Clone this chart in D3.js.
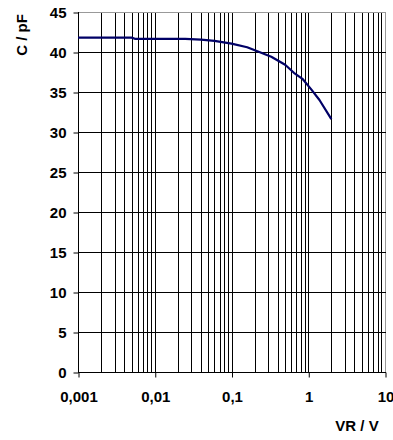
<!DOCTYPE html>
<html>
<head>
<meta charset="utf-8">
<script src="https://cdn.jsdelivr.net/npm/d3@7"></script>
<style>
  body { margin: 0; background: #fff; }
  svg text { font-family: "Liberation Sans", Arial, sans-serif; font-weight: bold; fill: #000; }
</style>
</head>
<body>
<svg id="chart" width="393" height="440"></svg>
<script>
// reverse voltage (V) and capacitance (pF)
const vr = [0.001, 0.005, 0.0055, 0.025, 0.04, 0.06, 0.1, 0.16, 0.23, 0.33, 0.5, 0.65, 0.85, 1.1, 1.4, 2];
const cap = [41.8, 41.8, 41.65, 41.65, 41.55, 41.4, 41.05, 40.6, 40.0, 39.4, 38.4, 37.4, 36.6, 35.3, 34.0, 31.6];

const xTicks = [0.001, 0.01, 0.1, 1, 10];
const xTickLabels = ["0,001", "0,01", "0,1", "1", "10"];
const yTicks = [0, 5, 10, 15, 20, 25, 30, 35, 40, 45];

const svg = d3.select("#chart");
const plot = { left: 78, right: 385, top: 12, bottom: 372 };

const x = d3.scaleLog().domain([0.001, 10]).range([plot.left, plot.right]);
const y = d3.scaleLinear().domain([0, 45]).range([plot.bottom, plot.top]);

// snap to pixel centre so 1px lines stay crisp
const px = (v) => Math.round(v) + 0.5;

// minor + major vertical grid (1..9 per decade)
const vLines = [];
for (let e = -3; e < 1; e++) {
  for (let m = 1; m < 10; m++) vLines.push(m * Math.pow(10, e));
}
vLines.push(10);

const grid = svg.append("g").attr("class", "grid");

grid.selectAll(".vgrid")
  .data(vLines)
  .join("line")
  .attr("class", "vgrid")
  .attr("x1", (d) => px(x(d)))
  .attr("x2", (d) => px(x(d)))
  .attr("y1", plot.top)
  .attr("y2", plot.bottom)
  .attr("stroke", (d) => (d === 10 ? "#999" : "#000"))
  .attr("stroke-width", 1);

grid.selectAll(".hgrid")
  .data(yTicks)
  .join("line")
  .attr("class", "hgrid")
  .attr("x1", plot.left)
  .attr("x2", plot.right + 1)
  .attr("y1", (d) => px(y(d)))
  .attr("y2", (d) => px(y(d)))
  .attr("stroke", (d) => (d === 45 ? "#999" : "#000"))
  .attr("stroke-width", 1);

// y axis
const yAxis = svg.append("g")
  .attr("transform", `translate(${px(plot.left)},0.5)`)
  .call(d3.axisLeft(y).tickValues(yTicks).tickSize(5).tickPadding(7).tickFormat(d3.format("d")));
yAxis.select(".domain").attr("stroke", "#000").attr("d", `M0,${plot.top - 0.5}V${plot.bottom}`);
yAxis.selectAll(".tick line").attr("stroke", "#000");
yAxis.selectAll(".tick text").style("font-size", "15px").attr("dy", "0.36em");

// x axis
const xAxis = svg.append("g")
  .attr("transform", `translate(0.5,${px(plot.bottom)})`)
  .call(d3.axisBottom(x).tickValues(xTicks).tickSize(5).tickPadding(14)
    .tickFormat((d, i) => xTickLabels[i]));
xAxis.select(".domain").attr("stroke", "#000").attr("d", `M${plot.left},0H${plot.right}`);
xAxis.selectAll(".tick line").attr("stroke", "#000");
xAxis.selectAll(".tick text").style("font-size", "15px");

// curve
const data = vr.map((v, i) => ({ v, c: cap[i] }));
svg.append("path")
  .datum(data)
  .attr("fill", "none")
  .attr("stroke", "#000066")
  .attr("stroke-width", 2.2)
  .attr("stroke-linejoin", "round")
  .attr("d", d3.line().x((d) => x(d.v)).y((d) => y(d.c)));

// axis titles
svg.append("text")
  .attr("transform", "translate(27,35) rotate(-90)")
  .attr("text-anchor", "middle")
  .style("font-size", "15px")
  .text("C / pF");

svg.append("text")
  .attr("x", 357)
  .attr("y", 431)
  .attr("text-anchor", "middle")
  .style("font-size", "15px")
  .text("VR / V");
</script>
</body>
</html>
